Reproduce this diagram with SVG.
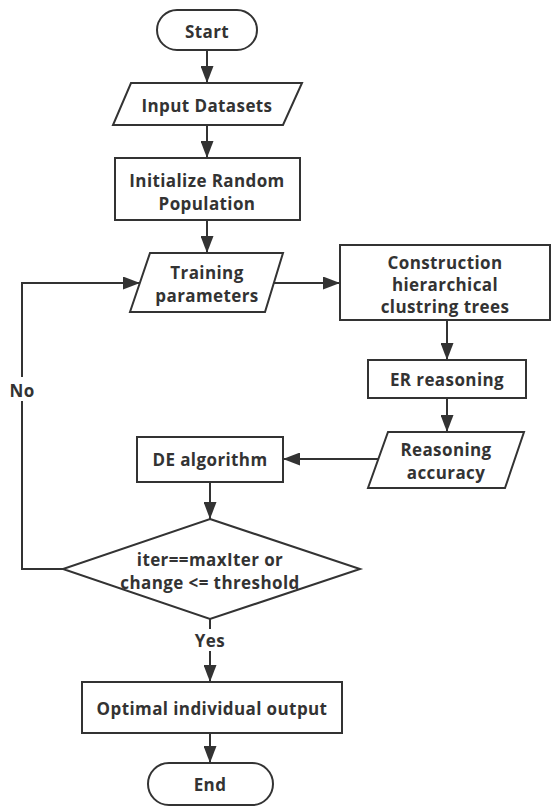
<svg xmlns="http://www.w3.org/2000/svg" width="552" height="806" viewBox="0 0 552 806">
<defs>
<style>
.s{fill:#fff;stroke:#333;stroke-width:2}
.t{font-family:"Open Sans","Noto Sans","DejaVu Sans",sans-serif;font-weight:bold;font-size:17px;letter-spacing:0.4px;fill:#333;text-anchor:middle;dominant-baseline:central}
.c{fill:none;stroke:#333;stroke-width:2}
</style>
<marker id="ah" markerWidth="17" markerHeight="13" refX="17" refY="6.5" orient="auto" markerUnits="userSpaceOnUse"><path d="M0,0 L17,6.5 L0,13 Z" fill="#333"/></marker>
</defs>
<rect width="552" height="806" fill="#fff"/>
<g id="connectors">
<path class="c" d="M207,50 V83" marker-end="url(#ah)"/>
<path class="c" d="M207,125 V158" marker-end="url(#ah)"/>
<path class="c" d="M207,220 V253" marker-end="url(#ah)"/>
<path class="c" d="M274,283 H340" marker-end="url(#ah)"/>
<path class="c" d="M447,320 V360" marker-end="url(#ah)"/>
<path class="c" d="M447,398 V432" marker-end="url(#ah)"/>
<path class="c" d="M378,459 H283" marker-end="url(#ah)"/>
<path class="c" d="M210,482 V519" marker-end="url(#ah)"/>
<path class="c" d="M210,619 V629"/>
<path class="c" d="M210,651 V682" marker-end="url(#ah)"/>
<path class="c" d="M210,733 V763" marker-end="url(#ah)"/>
<path class="c" d="M63,569 H22 V401"/>
<path class="c" d="M22,377 V283 H140" marker-end="url(#ah)"/>
<text class="t" x="22" y="390">No</text>
<text class="t" x="210" y="640">Yes</text>
</g>
<g id="start">
<rect class="s" x="157" y="10" width="100" height="40" rx="20"/>
<text class="t" x="207" y="31">Start</text>
</g>
<g id="input">
<polygon class="s" points="131,83 302,83 283,125 113,125"/>
<text class="t" x="207" y="105">Input Datasets</text>
</g>
<g id="init">
<rect class="s" x="115" y="158" width="185" height="62"/>
<text class="t" x="207" y="180">Initialize Random</text>
<text class="t" x="207" y="203">Population</text>
</g>
<g id="training">
<polygon class="s" points="150,253 283,253 265,312 130,312"/>
<text class="t" x="207" y="272">Training</text>
<text class="t" x="207" y="295">parameters</text>
</g>
<g id="construction">
<rect class="s" x="340" y="245" width="210" height="75"/>
<text class="t" x="445" y="262">Construction</text>
<text class="t" x="445" y="284">hierarchical</text>
<text class="t" x="445" y="306">clustring trees</text>
</g>
<g id="er">
<rect class="s" x="368" y="360" width="158" height="38"/>
<text class="t" x="447" y="379">ER reasoning</text>
</g>
<g id="accuracy">
<polygon class="s" points="388,432 524,432 505,488 368,488"/>
<text class="t" x="446" y="449">Reasoning</text>
<text class="t" x="446" y="472">accuracy</text>
</g>
<g id="de">
<rect class="s" x="137" y="437" width="146" height="45"/>
<text class="t" x="210" y="459">DE algorithm</text>
</g>
<g id="decision">
<polygon class="s" points="210,519 360,569 210,619 63,569"/>
<text class="t" x="210" y="559">iter==maxIter or</text>
<text class="t" x="210" y="582">change &lt;= threshold</text>
</g>
<g id="optimal">
<rect class="s" x="82" y="682" width="260" height="51"/>
<text class="t" x="212" y="708">Optimal individual output</text>
</g>
<g id="end">
<rect class="s" x="148" y="763" width="125" height="42" rx="21"/>
<text class="t" x="210" y="784">End</text>
</g>
</svg>
